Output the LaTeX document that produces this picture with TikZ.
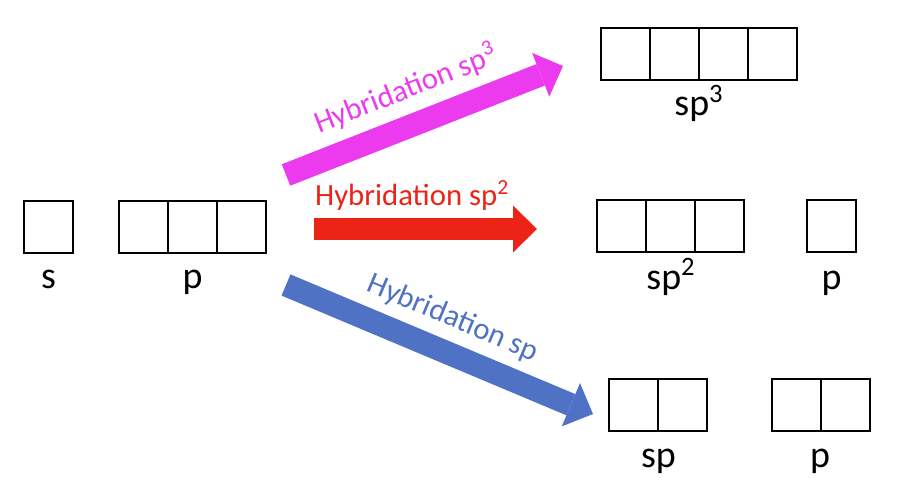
\documentclass[tikz,border=0pt]{standalone}
\usepackage{fontspec}
\setmainfont{Carlito}
\usepackage{tikz}
\usetikzlibrary{arrows.meta}
\definecolor{hybthree}{HTML}{EC3BEF}
\definecolor{hybtwo}{HTML}{EC2418}
\definecolor{hybone}{HTML}{4F72C4}

\tikzset{
  orb/.style={draw=black, line width=1.1pt, minimum width=0.98cm, minimum height=1.04cm, inner sep=0pt, outer sep=0pt},
  lbl/.style={font=\fontsize{21.6}{24}\selectfont, anchor=base, inner sep=0pt},
  hyb/.style={line width=0.46cm, -{Triangle[width=0.94cm,length=0.48cm,line width=0pt]}},
  hyblbl/.style={font=\fontsize{17.5}{20}\selectfont, sloped, inner sep=0pt},
}

\begin{document}
\begin{tikzpicture}[x=0.02cm, y=-0.02cm]
    \useasboundingbox (0,0) rectangle (905,503);
    % orbital boxes: name/left edge/centre y/count
    \foreach \nm/\x/\y/\n in {s/24/227/1, p/119/227/3, sptr/601/54/4, spdu/597/226/3, pdu/807/226/1, spun/609/405/2, pun/772/405/2} {
      \foreach \k in {1,...,\n}
        \node[orb] (\nm\k) at (\x+49*\k-24.5,\y) {};
    }
    \foreach \nm/\x/\y/\t in {ls/48.5/288/s, lp/192.5/288/p, lsptr/699/116/sp\textsuperscript{3}, lspdu/671/289/sp\textsuperscript{2}, lpdu/831.5/289/p, lspun/658.5/467/sp, lpun/820/467/p}
      \node[lbl] (\nm) at (\x,\y) {\t};
    % hybridation arrows
    \coordinate (trtail) at (286,175);
    \coordinate (trtip) at (563,66);
    \coordinate (dutail) at (314,229);
    \coordinate (dutip) at (537,229);
    \coordinate (untail) at (286,285);
    \coordinate (untip) at (593,414);
    \draw[hyb, hybthree] (trtail) -- node[hyblbl, above=0.2cm, pos=0.48, text=hybthree] {Hybridation sp\textsuperscript{3}} (trtip);
    \draw[hyb, hybtwo] (dutail) -- node[hyblbl, above=0.15cm, pos=0.44, text=hybtwo] {Hybridation sp\textsuperscript{2}} (dutip);
    \draw[hyb, hybone] (untail) -- node[hyblbl, above=0.18cm, pos=0.5, text=hybone] {Hybridation sp} (untip);
  \end{tikzpicture}
\end{document}
